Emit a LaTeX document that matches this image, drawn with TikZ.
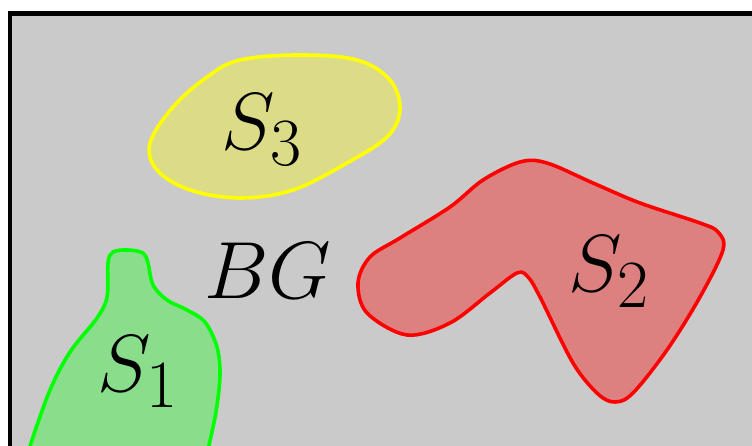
\documentclass[tikz,border=0pt]{standalone}
\definecolor{bggray}{RGB}{202,202,202}
\definecolor{gfill}{RGB}{138,221,138}
\definecolor{rfill}{RGB}{220,128,128}
\definecolor{yfill}{RGB}{220,220,136}
\definecolor{gline}{RGB}{0,255,0}
\definecolor{rline}{RGB}{255,0,0}
\definecolor{yline}{RGB}{255,255,0}
\tikzset{
  blob/.style={line width=1.1pt, line join=round},
  lbl/.style={inner sep=0pt, font=\Huge}
}
\begin{document}
\begin{tikzpicture}[x=0.307pt, y=-0.307pt]
\useasboundingbox (0,0) rectangle (752,446);
\clip (0,0) rectangle (752,446);
% background frame
\draw[line width=1.38pt, fill=bggray] (10.2,13.3) rectangle (780,480);
% S1 green
\draw[blob, draw=gline, fill=gfill] plot[smooth, tension=0.55] coordinates {
  (22,475) (30,446) (50,390) (70,352) (97,318) (107,297) (108,263)
  (113,252) (128,250) (143,253) (148,263) (153,285) (167,300) (187,310)
  (205,322) (217,347) (220,375) (216,412) (208,450) (203,475)};
% S2 red
\draw[blob, draw=rline, fill=rfill] plot[smooth cycle, tension=0.55] coordinates {
  (520,162) (483,180) (450,207) (400,238) (370,257) (358,283) (367,313)
  (407,335) (450,323) (490,293) (517,273) (528,277) (540,297) (573,363)
  (598,394) (615,402) (633,393) (667,350) (700,297) (723,250) (718,232) (700,223)
  (640,203) (593,183) (547,163)};
% S3 yellow
\draw[blob, draw=yline, fill=yfill] plot[smooth cycle, tension=0.6] coordinates {
  (300,55) (240,60) (207,77) (173,107) (150,143) (157,170) (190,190)
  (240,198) (293,190) (347,163) (387,137) (400,110) (390,80) (357,60)};
% labels
\node[lbl] (s1) at (138,372) {$S_1$};
\node[lbl] (s2) at (609,272) {$S_2$};
\node[lbl] (s3) at (262,130) {$S_3$};
\node[lbl] (bg) at (268,271) {$BG$};
\end{tikzpicture}
\end{document}
